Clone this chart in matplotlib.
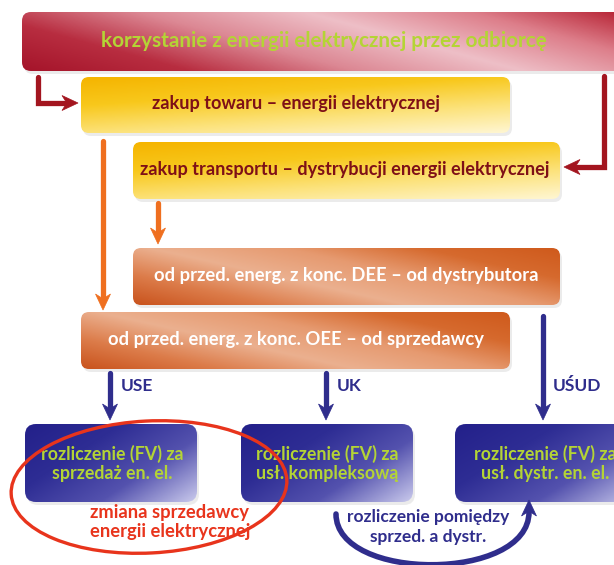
#!/usr/bin/env python3
# Schemat rozliczen za energie elektryczna - odtworzenie w matplotlib
import numpy as np
import matplotlib.pyplot as plt
from matplotlib.colors import LinearSegmentedColormap
from matplotlib.patches import FancyBboxPatch, Polygon, Ellipse, PathPatch
from matplotlib.path import Path

# texts
top_label = 'korzystanie z energii elektrycznej przez odbiorcę'
buy_labels = ['zakup towaru – energii elektrycznej',
              'zakup transportu – dystrybucji energii elektrycznej']
from_labels = ['od przed. energ. z konc. DEE – od dystrybutora',
               'od przed. energ. z konc. OEE – od sprzedawcy']
contract_labels = ['USE', 'UK', 'UŚUD']
bill_labels = ['rozliczenie (FV) za\nsprzedaż en. el.',
               'rozliczenie (FV) za\nusł. kompleksową',
               'rozliczenie (FV) za\nusł. dystr. en. el.']
change_label = 'zmiana sprzedawcy\nenergii elektrycznej'
between_label = 'rozliczenie pomiędzy\nsprzed. a dystr.'

FONT = ['Lato', 'DejaVu Sans']
RED = '#a3151f'
ORANGE = '#ef6f1f'
BLUE = '#2f2d8c'
GREEN = '#b4d435'
YELLOWS = ['#f5b400', '#f8c81c', '#fce27a', '#fff6d2']
ORANGES = ['#c9531d', '#dc7c4a', '#ebb08f', '#e69a70', '#d66a2e', '#cf5a1c']


def grad_box(ax, x0, y0, x1, y1, stops, wu, wv, r=8):
    # soft shadow
    ax.add_patch(FancyBboxPatch((x0 + 2, y0 + 3), x1 - x0, y1 - y0,
                                boxstyle=f'round,pad=0,rounding_size={r}',
                                fc='#d8d8d8', ec='none', alpha=0.5, zorder=1))
    patch = FancyBboxPatch((x0, y0), x1 - x0, y1 - y0,
                           boxstyle=f'round,pad=0,rounding_size={r}',
                           fc='none', ec='none', zorder=2)
    ax.add_patch(patch)
    u, v = np.meshgrid(np.linspace(0, 1, 300), np.linspace(0, 1, 80))
    t = wu * u + wv * v
    t = (t - t.min()) / (t.max() - t.min())
    cmap = LinearSegmentedColormap.from_list('g', stops)
    im = ax.imshow(t, cmap=cmap, extent=(x0, x1, y1, y0), origin='upper',
                   aspect='auto', interpolation='bilinear', zorder=2)
    im.set_clip_path(patch)


def head(ax, tip, d, color, length=16, width=15):
    d = np.array(d, float)
    d /= np.hypot(*d)
    n = np.array([-d[1], d[0]])
    tip = np.array(tip, float)
    base = tip - d * length
    pts = [tip, base + n * width / 2, tip - d * length * 0.7, base - n * width / 2]
    ax.add_patch(Polygon(pts, closed=True, fc=color, ec=color, lw=0.5, zorder=4))


def arrow(ax, pts, color, lw=3.8):
    xs, ys = zip(*pts)
    ax.plot(xs[:-1] + (xs[-1] - 0.6 * 16 * np.sign(xs[-1] - xs[-2]),),
            ys[:-1] + (ys[-1] - 0.6 * 16 * np.sign(ys[-1] - ys[-2]),),
            color=color, lw=lw, solid_capstyle='round',
            solid_joinstyle='miter', zorder=3)
    head(ax, pts[-1], (xs[-1] - xs[-2], ys[-1] - ys[-2]), color)


fig = plt.figure(figsize=(6.14, 5.65), dpi=100)
ax = fig.add_axes([0, 0, 1, 1])

# boxes
grad_box(ax, 22, 12, 640, 71,
         ['#a5142a', '#b82d40', '#dc8894', '#eebfc7', '#dd7e8a', '#b31a2c'], 1.0, -0.35, r=9)
grad_box(ax, 81, 77, 510, 133, YELLOWS, 0.35, 0.65)
grad_box(ax, 133, 142, 560, 199, YELLOWS, 0.35, 0.65)
grad_box(ax, 133, 248, 560, 305, ORANGES, 1.0, -0.6)
grad_box(ax, 81, 312, 510, 369, ORANGES, 1.0, -0.6)
for x0, x1 in [(25, 197), (241, 413), (455, 640)]:
    grad_box(ax, x0, 424, x1, 502,
             ['#23208a', '#2e2d94', '#5452ae', '#c9c9ec'], 0.65, 0.45, r=11)

# texts in boxes
ax.text(324, 41, top_label, color=GREEN, fontsize=14.9, fontweight='bold',
        family=FONT, ha='center', va='center', zorder=5)
ax.text(296, 104, buy_labels[0], color='#7e1017', fontsize=13.1, fontweight='bold',
        family=FONT, ha='center', va='center', zorder=5)
ax.text(345, 169, buy_labels[1], color='#7e1017', fontsize=13.1, fontweight='bold',
        family=FONT, ha='center', va='center', zorder=5)
ax.text(346, 276, from_labels[0], color='white', fontsize=13.2, fontweight='bold',
        family=FONT, ha='center', va='center', zorder=5)
ax.text(296, 340, from_labels[1], color='white', fontsize=13.2, fontweight='bold',
        family=FONT, ha='center', va='center', zorder=5)
for x, lab in zip([112, 327, 545], bill_labels):
    ax.text(x, 463, lab, color=GREEN, fontsize=12.8, fontweight='bold',
            family=FONT, ha='center', va='center', linespacing=1.15, zorder=5)

# arrows
arrow(ax, [(38, 77), (38, 103), (78, 103)], RED)
arrow(ax, [(604, 76), (604, 167), (564, 167)], RED)
arrow(ax, [(103, 141), (103, 310)], ORANGE)
arrow(ax, [(158, 203), (158, 244)], ORANGE)
arrow(ax, [(543, 316), (543, 420)], BLUE)
arrow(ax, [(110, 373), (110, 420)], BLUE)
arrow(ax, [(326, 373), (326, 420)], BLUE)
for x, lab in zip([121, 337, 553], contract_labels):
    ax.text(x, 386, lab, color=BLUE, fontsize=12.5, fontweight='bold',
            family=FONT, ha='left', va='center', zorder=5)

# U-shaped arrow between boxes
u_path = Path([(336, 514), (336, 582), (529, 582), (529, 512)],
              [Path.MOVETO, Path.CURVE4, Path.CURVE4, Path.CURVE4])
ax.add_patch(PathPatch(u_path, fc='none', ec=BLUE, lw=4, capstyle='round', zorder=3))
head(ax, (529, 500), (0, -1), BLUE)
ax.text(428, 527, between_label, color=BLUE, fontsize=12.5, fontweight='bold',
        family=FONT, ha='center', va='center', linespacing=1.25, zorder=5)

# red ellipse
ax.add_patch(Ellipse((149, 487), 276, 132, angle=-3, fc='none', ec='#e8341c',
                     lw=2.4, zorder=6))
ax.text(170, 522, change_label, color='#e8341c', fontsize=13.2, fontweight='bold',
        family=FONT, ha='center', va='center', linespacing=1.2, zorder=5)

ax.set_xlim(0, 614)
ax.set_ylim(565, 0)
ax.axis('off')
fig.savefig('out.png', dpi=100)
